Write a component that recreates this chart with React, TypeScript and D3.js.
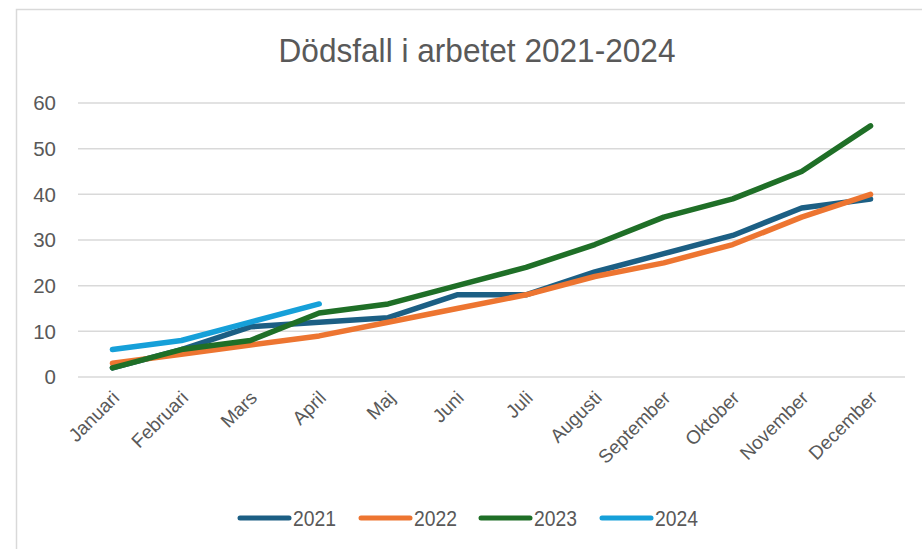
import React, { useEffect, useRef } from "react";
import * as d3 from "d3";

const months = [
  "Januari", "Februari", "Mars", "April", "Maj", "Juni",
  "Juli", "Augusti", "September", "Oktober", "November", "December",
];
const years = ["2021", "2022", "2023", "2024"];
const values2021 = [2, 6, 11, 12, 13, 18, 18, 23, 27, 31, 37, 39];
const values2022 = [3, 5, 7, 9, 12, 15, 18, 22, 25, 29, 35, 40];
const values2023 = [2, 6, 8, 14, 16, 20, 24, 29, 35, 39, 45, 55];
const values2024 = [6, 8, 12, 16];
const yTicks = [0, 10, 20, 30, 40, 50, 60];
const colors = ["#1c5f84", "#ed7531", "#1f6f27", "#16a0d9"];

const App: React.FC = () => {
  const svgRef = useRef<SVGSVGElement | null>(null);

  useEffect(() => {
    const width = 922;
    const height = 549;
    const margin = { top: 103, right: 17, bottom: 172, left: 78 };
    const font = "'Liberation Sans', Arial, sans-serif";
    const textColor = "#595959";

    const svg = d3.select(svgRef.current);
    svg.selectAll("*").remove();

    // chart frame
    svg
      .append("rect")
      .attr("x", 16.5)
      .attr("y", 9.5)
      .attr("width", width)
      .attr("height", height)
      .attr("fill", "white")
      .attr("stroke", "#d9d9d9")
      .attr("stroke-width", 1.5);

    const x = d3
      .scalePoint<string>()
      .domain(months)
      .range([margin.left, width - margin.right])
      .padding(0.5);

    const y = d3
      .scaleLinear()
      .domain([0, 60])
      .range([height - margin.bottom, margin.top]);

    // title
    svg
      .append("text")
      .attr("x", 477)
      .attr("y", 62)
      .attr("text-anchor", "middle")
      .attr("font-family", font)
      .attr("font-size", 33)
      .attr("fill", textColor)
      .attr("textLength", 397)
      .attr("lengthAdjust", "spacingAndGlyphs")
      .text("Dödsfall i arbetet 2021-2024");

    // gridlines + y labels
    const yAxis = svg.append("g");
    yAxis
      .selectAll("line")
      .data(yTicks)
      .enter()
      .append("line")
      .attr("x1", margin.left)
      .attr("x2", width - margin.right)
      .attr("y1", (d) => y(d))
      .attr("y2", (d) => y(d))
      .attr("stroke", "#d9d9d9")
      .attr("stroke-width", 1.5);
    yAxis
      .selectAll("text")
      .data(yTicks)
      .enter()
      .append("text")
      .attr("x", 56)
      .attr("y", (d) => y(d))
      .attr("dy", "0.36em")
      .attr("text-anchor", "end")
      .attr("font-family", font)
      .attr("font-size", 20.5)
      .attr("fill", textColor)
      .text((d) => d);

    // x labels, rotated
    svg
      .append("g")
      .selectAll("text")
      .data(months)
      .enter()
      .append("text")
      .attr("transform", (d) => `translate(${x(d)! + 8},${y(0) + 22}) rotate(-45)`)
      .attr("text-anchor", "end")
      .attr("font-family", font)
      .attr("font-size", 19)
      .attr("fill", textColor)
      .text((d) => d);

    // lines
    const series = [values2021, values2022, values2023, values2024];
    const line = d3
      .line<number>()
      .x((_, i) => x(months[i])!)
      .y((d) => y(d));

    series.forEach((vals, i) => {
      svg
        .append("path")
        .datum(vals)
        .attr("d", line)
        .attr("fill", "none")
        .attr("stroke", colors[i])
        .attr("stroke-width", 5.5)
        .attr("stroke-linecap", "round")
        .attr("stroke-linejoin", "round");
    });

    // legend
    const legendX = [238, 359, 479, 600];
    const legend = svg
      .append("g")
      .selectAll("g")
      .data(years)
      .enter()
      .append("g")
      .attr("transform", (_, i) => `translate(${legendX[i]},518)`);
    legend
      .append("line")
      .attr("x1", 2)
      .attr("x2", 51)
      .attr("stroke", (_, i) => colors[i])
      .attr("stroke-width", 5)
      .attr("stroke-linecap", "round");
    legend
      .append("text")
      .attr("x", 55)
      .attr("dy", "0.36em")
      .attr("font-family", font)
      .attr("font-size", 22)
      .attr("fill", textColor)
      .attr("textLength", 43)
      .attr("lengthAdjust", "spacingAndGlyphs")
      .text((d) => d);
  }, []);

  return (
    <svg
      ref={svgRef}
      width={922}
      height={549}
      style={{ position: "absolute", left: 0, top: 0, display: "block" }}
    ></svg>
  );
};

export default App;
